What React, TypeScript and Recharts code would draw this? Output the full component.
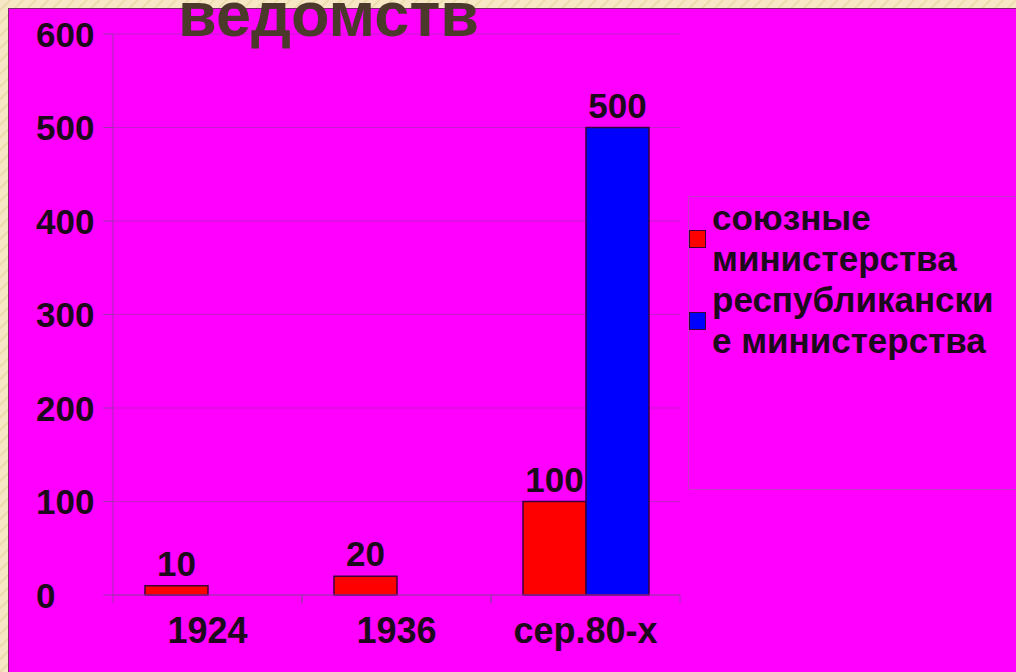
import React from "react";
import { BarChart, Bar, XAxis, YAxis, CartesianGrid, LabelList } from "recharts";

const categories = ["1924", "1936", "сер.80-х"];
const unionMinistries = [10, 20, 100];
const republicMinistries = [null, null, 500];
const yTicks = [0, 100, 200, 300, 400, 500, 600];
const seriesNames = ["союзные министерства", "республиканские министерства"];
const seriesColors = ["#ff0000", "#0000ff"];
const legendLines = [["союзные", "министерства"], ["республикански", "е министерства"]];
const title = "ведомств";

const data = categories.map((name, i) => ({
  name,
  union: unionMinistries[i],
  republic: republicMinistries[i],
}));

const FONT = "'Liberation Sans', Arial, sans-serif";
const INK = "#1c0a1c";
const CHART_W = 1016;
const CHART_H = 672;
const MARGIN = { top: 34, right: 336, left: 0, bottom: 27 };
const Y_AXIS_W = 113;
const HALF_BAND = (CHART_W - MARGIN.right - MARGIN.left - Y_AXIS_W) / categories.length / 2;

const YTick = (props: any) => {
  const { y, payload } = props;
  return (
    <text x={36} y={y} textAnchor="start" dominantBaseline="central"
      fontFamily={FONT} fontWeight="bold" fontSize={35} fill={INK}>
      {payload.value}
    </text>
  );
};

const XTick = (props: any) => {
  const { x, y, payload } = props;
  return (
    <g>
      <line x1={x - HALF_BAND} x2={x - HALF_BAND} y1={y - 8} y2={y} stroke="#a030b0" />
      <line x1={x + HALF_BAND} x2={x + HALF_BAND} y1={y - 8} y2={y} stroke="#a030b0" />
      <text x={x} y={y + 27} textAnchor="middle" dominantBaseline="central"
        fontFamily={FONT} fontWeight="bold" fontSize={36} fill={INK}>
        {payload.value}
      </text>
    </g>
  );
};

const LegendBox = () => (
  <div style={{
    position: "absolute", left: 688, top: 196, width: 340, height: 294,
    border: "1px solid #c838c8", boxSizing: "border-box",
    paddingTop: 0, fontFamily: FONT, fontWeight: "bold", fontSize: 35, color: INK,
  }}>
    {seriesNames.map((name, i) => (
      <div key={name} title={name} style={{ position: "relative", paddingLeft: 23, lineHeight: "41px" }}>
        <span style={{
          position: "absolute", left: 0, top: 33, width: 15, height: 16,
          background: seriesColors[i], border: "1px solid #3a003a",
        }} />
        {legendLines[i].map((l, j) => <div key={j}>{l}</div>)}
      </div>
    ))}
  </div>
);

const App: React.FC = () => {
  return (
    <div style={{
      position: "absolute", left: 0, top: 0, width: CHART_W, height: CHART_H, overflow: "hidden",
      background: "repeating-linear-gradient(135deg, #f6e8c4 0px, #f6e8c4 6px, #ead7a8 7px, #f6e8c4 9px)",
    }}>
      <div style={{
        position: "absolute", left: 8, top: 8, right: 0, bottom: 0,
        background: "#ff00ff", borderLeft: "1px solid #7a2a6a", borderTop: "1px solid #7a2a6a",
      }} />
      <div style={{ position: "absolute", left: 0, top: 0 }}>
        <BarChart width={CHART_W} height={CHART_H} data={data} margin={MARGIN} barSize={63} barGap={0}>
          <CartesianGrid horizontal={true} vertical={false} stroke="#c41ccc" />
          <XAxis dataKey="name" height={50} tickLine={false} axisLine={{ stroke: "#a030b0" }}
            tick={<XTick />} interval={0} />
          <YAxis width={Y_AXIS_W} domain={[0, 600]} ticks={yTicks} tickSize={10}
            tickLine={{ stroke: "#a030b0" }} axisLine={{ stroke: "#a030b0" }} tick={<YTick />} />
          <Bar dataKey="union" name={seriesNames[0]} fill={seriesColors[0]} stroke="#3a003a" strokeWidth={1.5}
            isAnimationActive={false}>
            <LabelList dataKey="union" position="top" offset={10}
              formatter={(v: any) => (v == null ? "" : v)}
              style={{ fontFamily: FONT, fontWeight: "bold", fontSize: 35, fill: INK }} />
          </Bar>
          <Bar dataKey="republic" name={seriesNames[1]} fill={seriesColors[1]} stroke="#3a003a" strokeWidth={1.5}
            isAnimationActive={false}>
            <LabelList dataKey="republic" position="top" offset={10}
              formatter={(v: any) => (v == null ? "" : v)}
              style={{ fontFamily: FONT, fontWeight: "bold", fontSize: 35, fill: INK }} />
          </Bar>
        </BarChart>
      </div>
      <LegendBox />
      <svg width={CHART_W} height={60} style={{ position: "absolute", left: 0, top: 0, pointerEvents: "none" }}>
        <text x={178} y={36} fontFamily={FONT} fontWeight="bold" fontSize={63} fill="#4b3a2c">
          {title}
        </text>
      </svg>
    </div>
  );
};

export default App;
